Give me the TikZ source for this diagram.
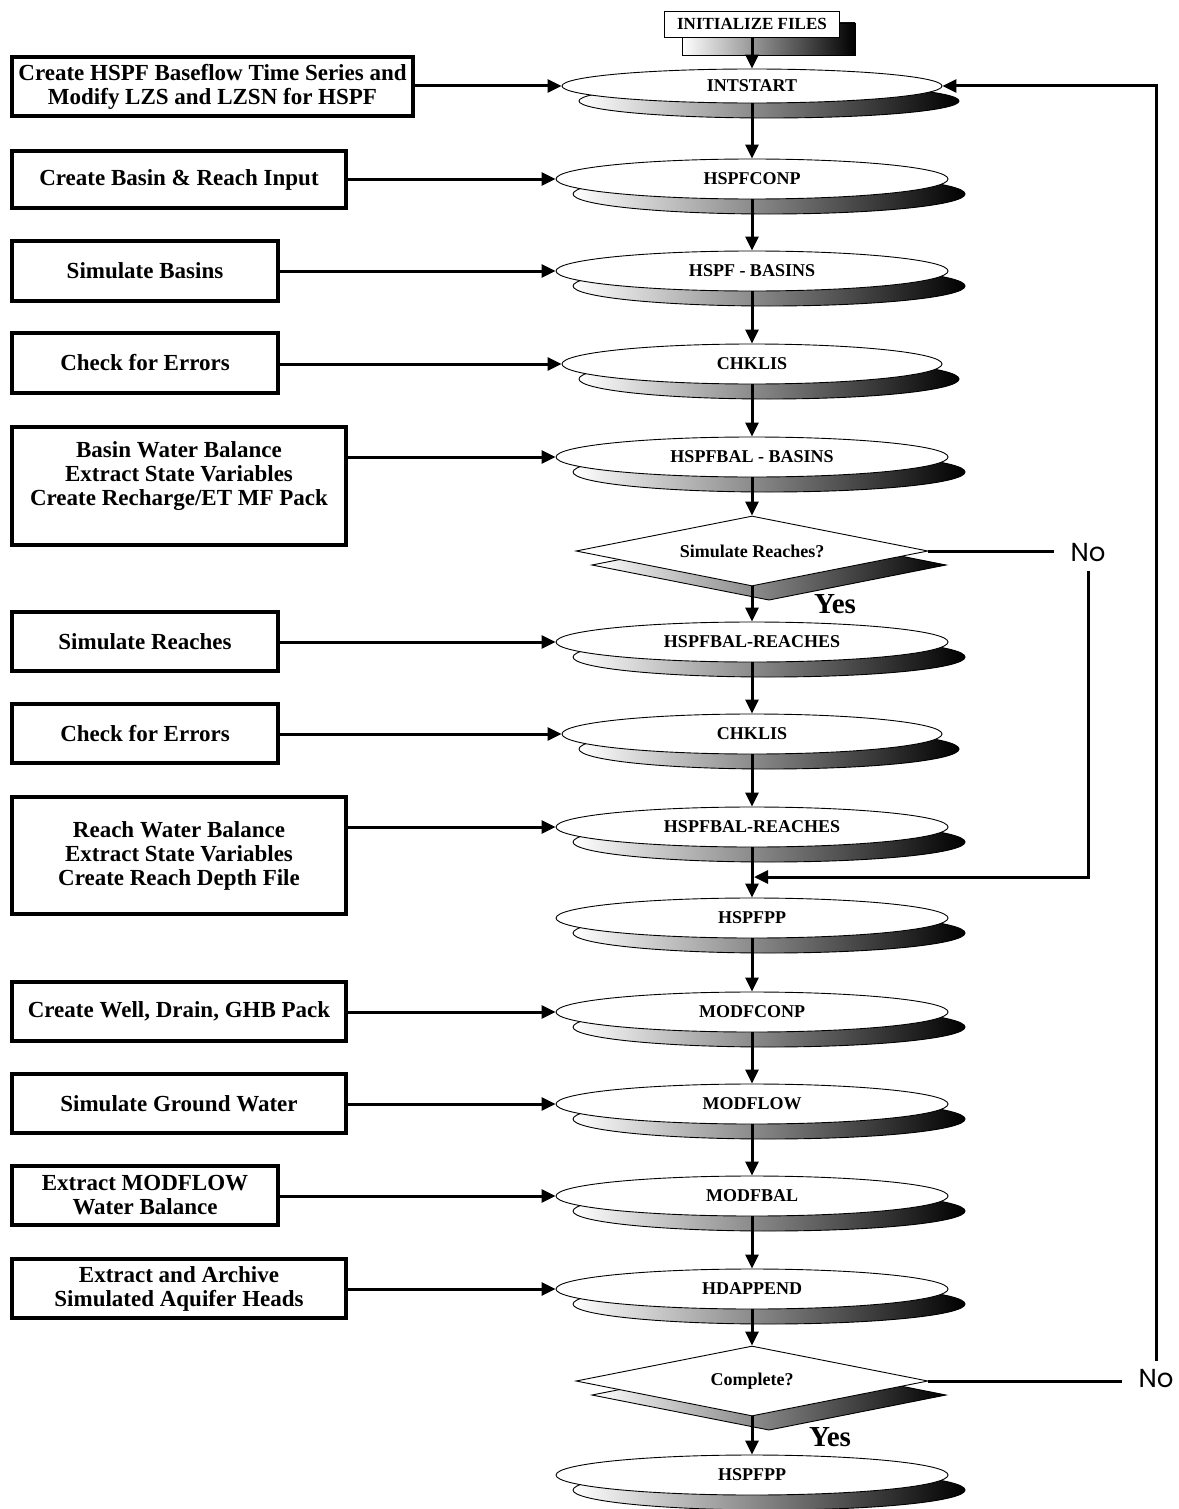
\documentclass[tikz,border=0pt]{standalone}
\usepackage{fontspec}
\setmainfont{Liberation Serif}
\newfontfamily\nofont{Poppins}
\usetikzlibrary{shapes.geometric,arrows.meta,calc}

\tikzset{
  inbox/.style={draw, line width=3.2pt, fill=white, align=center, inner sep=0pt,
    font=\fontsize{23}{24}\selectfont\bfseries},
  boxtext/.style={align=center, inner sep=0pt, font=\fontsize{23}{24}\selectfont\bfseries},
  procell/.style={ellipse, draw, line width=0.9pt, fill=white, inner sep=0pt,
    font=\fontsize{18}{20}\selectfont\bfseries},
  shadeshape/.style={draw, line width=0.9pt, left color=white, right color=black},
  decide/.style={diamond, aspect=5, draw, line width=0.9pt, fill=white, inner sep=0pt,
    minimum width=352pt, minimum height=70pt, font=\fontsize{18}{20}\selectfont\bfseries},
  initbox/.style={draw, line width=0.9pt, fill=white, inner sep=0pt,
    font=\fontsize{17}{18}\selectfont\bfseries},
  conn/.style={line width=3pt, -{Triangle[length=14pt,width=13pt]}},
  link/.style={line width=3pt},
  yeslabel/.style={inner sep=0pt, font=\fontsize{29}{30}\selectfont\bfseries},
  nolabel/.style={inner xsep=16pt, inner ysep=9pt, font=\nofont\fontsize{26}{26}\selectfont},
}

% process step: shaded disc behind a white ellipse
% #1 name, #2 centre y, #3 half width, #4 half height, #5 label
\newcommand\procstep[5]{%
  \path[shadeshape] (769,{#2+15}) ellipse ({#3pt} and {#4pt});
  \node[procell, minimum width={2*#3pt}, minimum height={2*#4pt}] (#1) at (752,#2) {#5};
}
% decision: shaded diamond behind a white diamond
% #1 name, #2 centre y, #3 label
\newcommand\decidestep[3]{%
  \path[shadeshape] (592,{#2+14}) -- (769,{#2-21}) -- (946,{#2+14}) -- (769,{#2+49}) -- cycle;
  \node[decide] (#1) at (752,#2) {#3};
}
% input box on the left: #1 name, #2 right edge, #3 top, #4 bottom, #5 text
\newcommand\inputbox[5]{%
  \node[inbox, minimum width={#2pt-12pt}, minimum height={#4pt-#3pt}]
    (#1) at ({(12+#2)/2},{(#3+#4)/2}) {#5};
}

\begin{document}
\begin{tikzpicture}[x=1pt,y=-1pt]
\useasboundingbox[fill=white] (0,0) rectangle (1178,1509);

% start box
\path[shadeshape] (682,23) rectangle (855,55);
\node[initbox, minimum width=175pt, minimum height=26pt] (init) at (752,24) {INITIALIZE FILES};

% main column
\procstep{e1}{86}{190}{17}{INTSTART}
\procstep{e2}{179}{196}{20}{HSPFCONP}
\procstep{e3}{271}{196}{20}{HSPF - BASINS}
\procstep{e4}{364}{190}{20}{CHKLIS}
\procstep{e5}{457}{196}{20}{HSPFBAL - BASINS}
\decidestep{d1}{551}{Simulate Reaches?}
\procstep{e6}{642}{196}{20}{HSPFBAL-REACHES}
\procstep{e7}{734}{190}{20}{CHKLIS}
\procstep{e8}{827}{196}{20}{HSPFBAL-REACHES}
\procstep{e9}{918}{196}{20}{HSPFPP}
\procstep{e10}{1012}{196}{20}{MODFCONP}
\procstep{e11}{1104}{196}{20}{MODFLOW}
\procstep{e12}{1196}{196}{20}{MODFBAL}
\procstep{e13}{1289}{196}{20}{HDAPPEND}
\decidestep{d2}{1381}{Complete?}
\procstep{e14}{1475}{196}{20}{HSPFPP}

% input boxes
\inputbox{b1}{413}{57}{116}{Create HSPF Baseflow Time Series and\\Modify LZS and LZSN for HSPF}
\inputbox{b2}{346}{151}{208}{Create Basin \& Reach Input}
\inputbox{b3}{278}{241}{301}{Simulate Basins}
\inputbox{b4}{278}{333}{393}{Check for Errors}
\inputbox{b5}{346}{427}{545}{}
\node[boxtext] (b5t) at (179,476) {Basin Water Balance\\Extract State Variables\\Create Recharge/ET MF Pack};
\inputbox{b6}{278}{612}{671}{Simulate Reaches}
\inputbox{b7}{278}{704}{763}{Check for Errors}
\inputbox{b8}{346}{797}{914}{Reach Water Balance\\Extract State Variables\\Create Reach Depth File}
\inputbox{b9}{346}{982}{1041}{Create Well, Drain, GHB Pack}
\inputbox{b10}{346}{1074}{1133}{Simulate Ground Water}
\inputbox{b11}{278}{1166}{1225}{Extract MODFLOW\\Water Balance}
\inputbox{b12}{346}{1259}{1318}{Extract and Archive\\Simulated Aquifer Heads}

% labels
\node[yeslabel] (yes1) at (835,604) {Yes};
\node[yeslabel] (yes2) at (830,1437) {Yes};
\node[nolabel] (no1) at (1088,553) {No};
\node[nolabel] (no2) at (1156,1379) {No};
\coordinate (m1) at (754,877);

% main flow
\draw[conn] (init.south) -- (e1.north);
\draw[conn] (e1.south) -- (e2.north);
\draw[conn] (e2.south) -- (e3.north);
\draw[conn] (e3.south) -- (e4.north);
\draw[conn] (e4.south) -- (e5.north);
\draw[conn] (e5.south) -- (d1.north);
\draw[conn] (d1.south) -- (e6.north);
\draw[conn] (e6.south) -- (e7.north);
\draw[conn] (e7.south) -- (e8.north);
\draw[conn] (e8.south) -- (e9.north);
\draw[conn] (e9.south) -- (e10.north);
\draw[conn] (e10.south) -- (e11.north);
\draw[conn] (e11.south) -- (e12.north);
\draw[conn] (e12.south) -- (e13.north);
\draw[conn] (e13.south) -- (d2.north);
\draw[conn] (d2.south) -- (e14.north);

% inputs into the steps
\draw[conn] (b1.east |- e1.west) -- (e1.west);
\draw[conn] (b2.east |- e2.west) -- (e2.west);
\draw[conn] (b3.east |- e3.west) -- (e3.west);
\draw[conn] (b4.east |- e4.west) -- (e4.west);
\draw[conn] (b5.east |- e5.west) -- (e5.west);
\draw[conn] (b6.east |- e6.west) -- (e6.west);
\draw[conn] (b7.east |- e7.west) -- (e7.west);
\draw[conn] (b8.east |- e8.west) -- (e8.west);
\draw[conn] (b9.east |- e10.west) -- (e10.west);
\draw[conn] (b10.east |- e11.west) -- (e11.west);
\draw[conn] (b11.east |- e12.west) -- (e12.west);
\draw[conn] (b12.east |- e13.west) -- (e13.west);

% "No" branches
\draw[link] (d1.east) -- (d1.east -| no1.west);
\draw[conn] (no1.south) |- (m1);
\draw[link] (d2.east) -- (d2.east -| no2.west);
\draw[conn] (no2.north) |- (e1.east);
\end{tikzpicture}
\end{document}
